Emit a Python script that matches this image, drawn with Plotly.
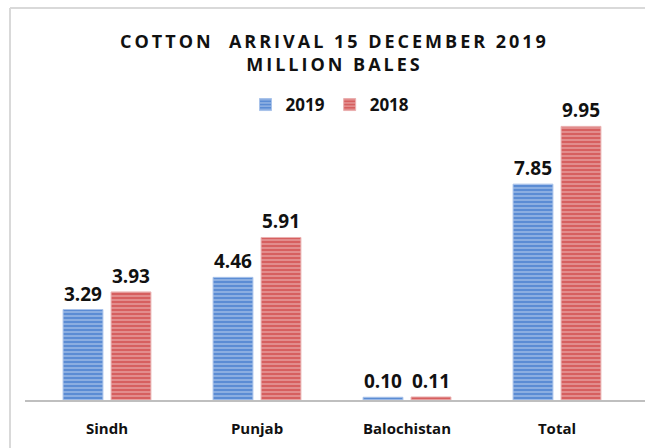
import plotly.graph_objects as go

categories = ["Sindh", "Punjab", "Balochistan", "Total"]
values_2019 = [3.29, 4.46, 0.10, 7.85]
values_2018 = [3.93, 5.91, 0.11, 9.95]
series_names = ["2019", "2018"]
title_lines = ["COTTON  ARRIVAL 15 DECEMBER 2019", "MILLION BALES"]

W, H = 645, 448
ml, mr, mt, mb = 32, 13, 98, 48
pw = W - ml - mr
ph = H - mt - mb
scale = 27.5  # px per unit
ymax = ph / scale

def px_x(px):
    return (px - ml) / pw

def px_y(py):
    return (H - mb - py) / ph

font = "Open Sans"

def spaced(s):
    return "\u2009".join(list(s))

title_text = "<br>".join(spaced(t) for t in title_lines)

fig = go.Figure()
fig.add_trace(go.Bar(
    x=categories, y=values_2019, name=series_names[0],
    marker=dict(color="#5b8cd4", line=dict(color="#a9c3ea", width=1),
                pattern=dict(shape="-", fgcolor="#e6eefa", size=4, solidity=0.35)),
    text=[f"{v:.2f}" for v in values_2019], textposition="outside",
    textfont=dict(family=font, size=19, color="#111111", weight="bold"), cliponaxis=False,
))
fig.add_trace(go.Bar(
    x=categories, y=values_2018, name=series_names[1],
    marker=dict(color="#d65f5f", line=dict(color="#eab0b0", width=1),
                pattern=dict(shape="-", fgcolor="#f8e0e0", size=4, solidity=0.35)),
    text=[f"{v:.2f}" for v in values_2018], textposition="outside",
    textfont=dict(family=font, size=19, color="#111111", weight="bold"), cliponaxis=False,
))

fig.update_layout(
    width=W, height=H,
    margin=dict(l=ml, r=mr, t=mt, b=mb, autoexpand=False),
    paper_bgcolor="white", plot_bgcolor="white",
    barmode="group", bargap=0.36, bargroupgap=0.17,
    title=dict(text=title_text, x=333 / W, xanchor="center", xref="container",
               y=1 - 48 / H, yanchor="middle", yref="container",
               font=dict(family=font, size=18, color="#111111", weight="bold")),
    legend=dict(orientation="h", x=330 / W, xanchor="center", xref="container",
                y=1 - 105 / H, yanchor="middle", yref="container",
                font=dict(family=font, size=17, color="#111111", weight="bold"),
                itemwidth=30, traceorder="normal"),
    showlegend=True,
    xaxis=dict(showline=False, ticks="", showgrid=False, ticklabelstandoff=18,
               tickfont=dict(family=font, size=15, color="#111111", weight="bold")),
    yaxis=dict(visible=False, range=[0, ymax], showgrid=False, zeroline=False),
    shapes=[
        dict(type="line", xref="paper", yref="paper", x0=px_x(10), x1=px_x(650), y0=px_y(8), y1=px_y(8),
             line=dict(color="#d9d9d9", width=2)),
        dict(type="line", xref="paper", yref="paper", x0=px_x(10), x1=px_x(10), y0=px_y(8), y1=px_y(460),
             line=dict(color="#d9d9d9", width=2)),
        dict(type="line", xref="paper", yref="paper", x0=px_x(25), x1=px_x(650), y0=px_y(401), y1=px_y(401),
             line=dict(color="#bfbfbf", width=2)),
    ],
)

fig.write_html("out.html", config={"displayModeBar": False},
               post_script="document.body.style.margin='0';")
